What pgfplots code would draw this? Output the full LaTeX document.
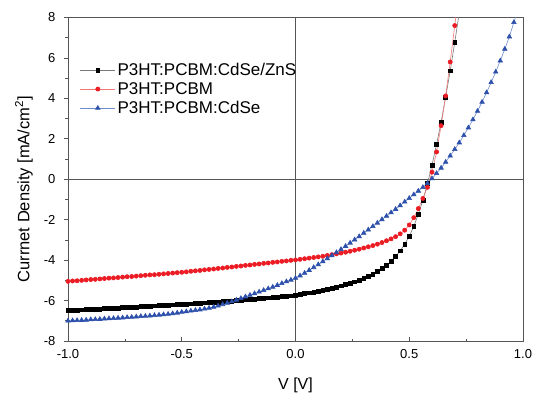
\documentclass[border=0pt]{standalone}
\usepackage{fontspec}
\setmainfont{Liberation Sans}
\usepackage{pgfplots}
\pgfplotsset{compat=1.18}
\usepackage{pgfplotstable}
\definecolor{bmark}{RGB}{0,0,0}
\definecolor{bline}{RGB}{120,120,120}
\definecolor{rmark}{RGB}{236,28,36}
\definecolor{rline}{RGB}{242,120,120}
\definecolor{umark}{RGB}{45,80,170}
\definecolor{uline}{RGB}{110,140,205}
\definecolor{frame}{RGB}{85,85,85}

\pgfplotstableread{
V J
-1.00 -6.50
-0.98 -6.49
-0.96 -6.48
-0.94 -6.46
-0.92 -6.45
-0.90 -6.44
-0.88 -6.43
-0.86 -6.42
-0.84 -6.40
-0.82 -6.39
-0.80 -6.38
-0.78 -6.37
-0.76 -6.35
-0.74 -6.34
-0.72 -6.33
-0.70 -6.32
-0.68 -6.30
-0.66 -6.29
-0.64 -6.28
-0.62 -6.26
-0.60 -6.25
-0.58 -6.24
-0.56 -6.22
-0.54 -6.21
-0.52 -6.20
-0.50 -6.18
-0.48 -6.17
-0.46 -6.16
-0.44 -6.14
-0.42 -6.13
-0.40 -6.11
-0.38 -6.10
-0.36 -6.08
-0.34 -6.07
-0.32 -6.05
-0.30 -6.04
-0.28 -6.02
-0.26 -6.00
-0.24 -5.98
-0.22 -5.96
-0.20 -5.94
-0.18 -5.92
-0.16 -5.90
-0.14 -5.88
-0.12 -5.86
-0.10 -5.84
-0.08 -5.82
-0.06 -5.80
-0.04 -5.78
-0.02 -5.76
0.00 -5.73
0.02 -5.70
0.04 -5.66
0.06 -5.62
0.08 -5.58
0.10 -5.54
0.12 -5.49
0.14 -5.44
0.16 -5.39
0.18 -5.33
0.20 -5.27
0.22 -5.21
0.24 -5.14
0.26 -5.07
0.28 -4.99
0.30 -4.90
0.32 -4.81
0.34 -4.70
0.36 -4.57
0.38 -4.42
0.40 -4.25
0.42 -4.05
0.44 -3.82
0.46 -3.54
0.48 -3.21
0.50 -2.82
0.52 -2.33
0.54 -1.73
0.56 -1.03
0.58 -0.22
0.60 0.70
0.62 1.72
0.64 2.82
0.66 4.06
0.68 5.36
0.70 6.77
0.72 8.25
}\blacktab

\pgfplotstableread{
V J
-1.00 -5.05
-0.98 -5.03
-0.96 -5.02
-0.94 -5.00
-0.92 -4.98
-0.90 -4.96
-0.88 -4.95
-0.86 -4.93
-0.84 -4.91
-0.82 -4.89
-0.80 -4.88
-0.78 -4.86
-0.76 -4.84
-0.74 -4.82
-0.72 -4.81
-0.70 -4.79
-0.68 -4.77
-0.66 -4.75
-0.64 -4.73
-0.62 -4.72
-0.60 -4.70
-0.58 -4.68
-0.56 -4.66
-0.54 -4.64
-0.52 -4.62
-0.50 -4.60
-0.48 -4.58
-0.46 -4.55
-0.44 -4.53
-0.42 -4.51
-0.40 -4.48
-0.38 -4.46
-0.36 -4.44
-0.34 -4.41
-0.32 -4.39
-0.30 -4.36
-0.28 -4.34
-0.26 -4.31
-0.24 -4.29
-0.22 -4.26
-0.20 -4.24
-0.18 -4.21
-0.16 -4.19
-0.14 -4.16
-0.12 -4.14
-0.10 -4.11
-0.08 -4.09
-0.06 -4.06
-0.04 -4.04
-0.02 -4.01
0.00 -3.99
0.02 -3.96
0.04 -3.93
0.06 -3.90
0.08 -3.87
0.10 -3.84
0.12 -3.81
0.14 -3.77
0.16 -3.73
0.18 -3.69
0.20 -3.65
0.22 -3.61
0.24 -3.56
0.26 -3.51
0.28 -3.46
0.30 -3.40
0.32 -3.34
0.34 -3.28
0.36 -3.21
0.38 -3.13
0.40 -3.04
0.42 -2.95
0.44 -2.84
0.46 -2.70
0.48 -2.52
0.50 -2.26
0.52 -1.90
0.54 -1.45
0.56 -0.95
0.58 -0.40
0.60 0.35
0.62 1.35
0.64 2.65
0.66 4.12
0.68 5.80
0.70 7.60
0.72 9.40
}\redtab

\pgfplotstableread{
V J
-1.00 -7.00
-0.98 -6.99
-0.96 -6.98
-0.94 -6.97
-0.92 -6.96
-0.90 -6.94
-0.88 -6.93
-0.86 -6.92
-0.84 -6.90
-0.82 -6.89
-0.80 -6.88
-0.78 -6.86
-0.76 -6.85
-0.74 -6.83
-0.72 -6.82
-0.70 -6.80
-0.68 -6.78
-0.66 -6.77
-0.64 -6.75
-0.62 -6.73
-0.60 -6.71
-0.58 -6.69
-0.56 -6.67
-0.54 -6.64
-0.52 -6.61
-0.50 -6.57
-0.48 -6.54
-0.46 -6.51
-0.44 -6.48
-0.42 -6.45
-0.40 -6.41
-0.38 -6.37
-0.36 -6.32
-0.34 -6.26
-0.32 -6.19
-0.30 -6.12
-0.28 -6.05
-0.26 -5.97
-0.24 -5.89
-0.22 -5.81
-0.20 -5.73
-0.18 -5.65
-0.16 -5.57
-0.14 -5.49
-0.12 -5.41
-0.10 -5.33
-0.08 -5.24
-0.06 -5.15
-0.04 -5.06
-0.02 -4.98
0.00 -4.89
0.02 -4.77
0.04 -4.64
0.06 -4.50
0.08 -4.36
0.10 -4.22
0.12 -4.07
0.14 -3.92
0.16 -3.77
0.18 -3.62
0.20 -3.47
0.22 -3.31
0.24 -3.15
0.26 -2.99
0.28 -2.83
0.30 -2.66
0.32 -2.50
0.34 -2.33
0.36 -2.16
0.38 -1.99
0.40 -1.82
0.42 -1.65
0.44 -1.48
0.46 -1.30
0.48 -1.12
0.50 -0.94
0.52 -0.76
0.54 -0.58
0.56 -0.40
0.58 -0.20
0.60 0.03
0.62 0.29
0.64 0.56
0.66 0.85
0.68 1.16
0.70 1.48
0.72 1.81
0.74 2.17
0.76 2.55
0.78 2.95
0.80 3.37
0.82 3.82
0.84 4.29
0.86 4.79
0.88 5.31
0.90 5.86
0.92 6.44
0.94 7.05
0.96 7.76
0.98 8.45
}\bluetab

\begin{document}
\begin{tikzpicture}
\begin{axis}[
  scale only axis,
  width=455pt, height=323.5pt,
  xmin=-1, xmax=1, ymin=-8, ymax=8,
  axis line style={frame, line width=0.8pt},
  xtick={-1,-0.5,0,0.5,1},
  xticklabels={-1.0,-0.5,0.0,0.5,1.0},
  ytick={-8,-6,-4,-2,0,2,4,6,8},
  yticklabels={-8,-6,-4,-2,0,2,4,6,8},
  minor x tick num=1,
  minor y tick num=1,
  xtick pos=bottom, ytick pos=left,
  tick align=inside,
  major tick length=4pt, minor tick length=2.5pt,
  tick style={frame, line width=0.7pt},
  every major y tick/.append style={xshift=-4pt},
  every minor y tick/.append style={xshift=-2.5pt},
  ticklabel style={font=\fontsize{13}{15}\selectfont},
  xticklabel style={yshift=-5pt},
  yticklabel style={xshift=-9pt},
  xlabel={V [V]},
  ylabel={Currnet Density [mA/cm\textsuperscript{2}]},
  every axis x label/.style={at={(rel axis cs:0.5,0)}, anchor=center, yshift=-44pt, font=\fontsize{16}{18}\selectfont},
  every axis y label/.style={at={(rel axis cs:0,0.5)}, anchor=center, rotate=90, yshift=44pt, xshift=-10pt, font=\fontsize{16.5}{18}\selectfont},
  legend style={at={(0.026,0.866)}, anchor=north west, draw=none, fill=none, inner sep=0pt,
     font=\fontsize{17}{20}\selectfont, row sep=1.5pt},
  legend cell align=left,
  legend image code/.code={\draw[mark repeat=2,mark phase=2,#1] plot coordinates {(0pt,0pt) (17.5pt,0pt) (35pt,0pt)};},
  clip=true,
]
\draw[frame, line width=0.8pt] (axis cs:0,-8) -- (axis cs:0,8);
\draw[frame, line width=0.8pt] (axis cs:-1,0) -- (axis cs:1,0);
\addplot[color=bline, line width=0.6pt, mark=square*, mark size=1.9pt, mark options={fill=bmark, draw=bmark}] table[x=V,y=J] {\blacktab};
\addlegendentry{P3HT:PCBM:CdSe/ZnS}
\addplot[color=rline, line width=0.6pt, mark=*, mark size=2.1pt, mark options={fill=rmark, draw=rmark}] table[x=V,y=J] {\redtab};
\addlegendentry{P3HT:PCBM}
\addplot[color=uline, line width=0.6pt, mark=triangle*, mark size=2.6pt, mark options={fill=umark, draw=umark}] table[x=V,y=J] {\bluetab};
\addlegendentry{P3HT:PCBM:CdSe}
\end{axis}
\path[use as bounding box] ([xshift=-68pt,yshift=-54pt]current axis.south west) rectangle ([xshift=18pt,yshift=17.5pt]current axis.north east);
\end{tikzpicture}
\end{document}
